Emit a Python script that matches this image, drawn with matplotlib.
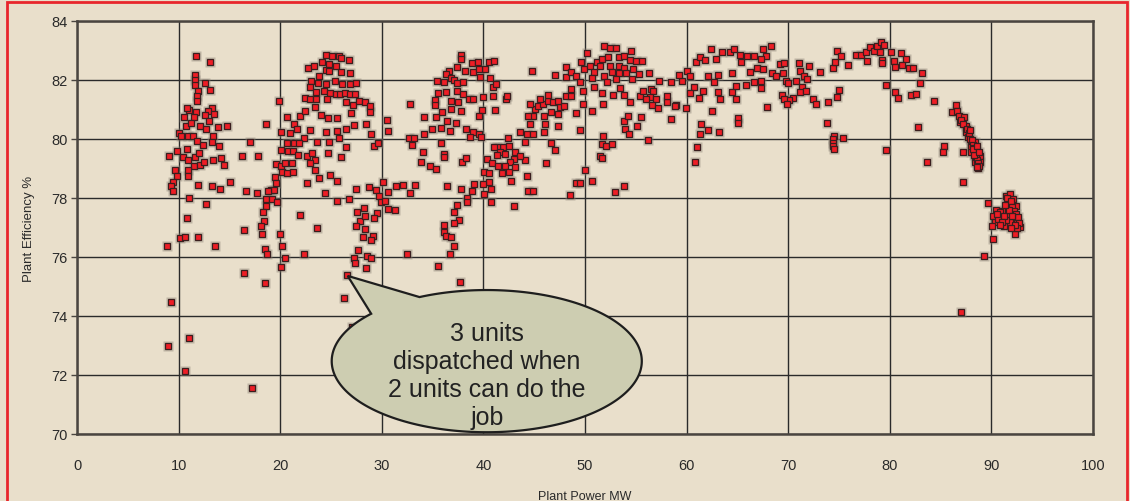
import numpy as np
import matplotlib
matplotlib.use('Agg')
import matplotlib.pyplot as plt
from matplotlib.patches import Polygon, Rectangle

# plant power (MW) / plant efficiency (%), grouped by region
power_1 = [11.74, 13.08, 11.64, 11.57, 11.64, 12.62, 13.08, 11.90, 11.80, 11.84,
           11.05, 10.82, 13.28, 12.85, 11.70, 10.49, 11.51, 12.62, 13.48, 12.98,
           10.69, 11.18, 12.07, 12.72, 13.84, 14.75, 10.03, 10.26, 10.92, 11.41,
           11.80, 12.39, 13.38, 13.31, 13.97, 16.98, 9.02, 9.84, 10.82, 10.39,
           10.92, 11.61, 12.00, 11.51, 12.07, 12.49, 13.38, 14.20, 14.43, 16.20,
           9.61, 9.84, 10.92, 10.95, 9.48, 9.25, 9.48, 11.93, 13.31, 14.10,
           15.08, 16.66, 11.05, 12.72, 10.82, 16.43, 10.16, 10.59, 11.93, 8.82,
           13.61, 16.43, 9.25, 11.05, 8.93, 10.59, 17.25]
eff_1 = [82.80, 82.61, 82.18, 82.00, 81.84, 81.89, 81.67, 81.62, 81.45, 81.30,
         80.99, 81.04, 81.06, 80.96, 80.90, 80.76, 80.75, 80.80, 80.85, 80.62,
         80.45, 80.53, 80.45, 80.34, 80.41, 80.45, 80.20, 80.11, 80.11, 80.11,
         79.92, 79.81, 80.09, 79.91, 79.77, 79.91, 79.44, 79.59, 79.67, 79.38,
         79.29, 79.39, 79.51, 79.10, 79.13, 79.23, 79.29, 79.34, 79.13, 79.44,
         78.94, 78.76, 78.96, 78.73, 78.55, 78.40, 78.23, 78.45, 78.40, 78.31,
         78.55, 78.25, 78.01, 77.81, 77.32, 76.93, 76.64, 76.69, 76.69, 76.38,
         76.38, 75.45, 74.48, 73.25, 72.97, 72.14, 71.55]

power_2 = [24.48, 25.13, 25.81, 25.94, 26.79, 22.69, 23.34, 24.12, 24.81, 25.49,
           25.94, 26.85, 24.48, 24.84, 23.77, 23.05, 23.70, 24.51, 25.39, 26.10,
           26.85, 27.47, 22.89, 23.51, 24.35, 24.94, 25.49, 25.88, 26.36, 26.85,
           27.34, 22.44, 22.89, 23.54, 24.58, 26.52, 27.18, 27.76, 28.31, 28.80,
           28.83, 19.84, 21.98, 22.40, 23.38, 24.03, 24.71, 25.62, 26.98, 27.27,
           20.71, 21.36, 18.57, 20.06, 21.00, 21.66, 22.31, 22.95, 23.60, 24.51,
           24.84, 25.62, 25.75, 26.46, 26.46, 28.47, 28.93, 29.19, 29.58, 30.52,
           30.62, 32.79, 32.69, 33.15, 33.02, 17.82, 20.68, 21.33, 21.85, 20.06,
           20.75, 21.27, 21.72, 22.63, 23.15, 23.47, 24.71, 25.94, 19.61, 20.03,
           20.49, 21.20, 22.96, 23.47, 20.13, 20.68, 21.27, 19.48, 23.81, 24.94,
           25.59, 22.66, 19.61, 19.06, 19.38, 18.83, 17.69, 18.60, 19.16, 19.71,
           18.60, 24.38, 25.58, 26.79, 27.44, 28.73, 29.45, 30.10, 30.58, 29.77,
           29.93, 30.36, 31.40, 32.05, 32.79, 33.28, 31.33, 30.58, 29.51, 29.19,
           28.21, 27.56, 27.82, 28.37, 27.50, 28.31, 28.15, 29.12, 28.93, 18.31,
           18.41, 18.15, 18.18, 21.92, 20.00, 23.67, 20.19, 18.47, 18.73, 20.52,
           22.37, 20.03, 27.69, 27.24, 27.37, 28.54, 28.93, 28.47, 32.44, 18.47,
           26.59, 26.27, 27.05]
eff_2 = [82.86, 82.82, 82.80, 82.73, 82.67, 82.42, 82.46, 82.60, 82.55, 82.49,
         82.26, 82.24, 82.35, 82.31, 82.15, 81.98, 81.90, 81.85, 81.98, 81.85,
         81.85, 81.89, 81.75, 81.58, 81.62, 81.56, 81.53, 81.53, 81.56, 81.53,
         81.53, 81.40, 81.36, 81.36, 81.34, 81.24, 81.15, 81.29, 81.24, 81.11,
         80.93, 81.29, 80.79, 80.94, 81.07, 80.80, 80.70, 80.70, 80.88, 80.46,
         80.75, 80.52, 80.50, 80.23, 80.20, 80.34, 80.05, 80.32, 79.91, 80.23,
         79.89, 80.27, 80.02, 80.34, 79.74, 80.51, 80.17, 79.77, 79.86, 80.66,
         80.27, 81.18, 80.02, 80.02, 79.81, 79.44, 79.86, 79.86, 79.86, 79.64,
         79.60, 79.58, 79.46, 79.41, 79.53, 79.28, 79.53, 79.38, 79.14, 79.10,
         79.19, 79.19, 79.19, 78.96, 78.87, 78.85, 78.89, 78.71, 78.69, 78.78,
         78.58, 78.51, 78.50, 78.28, 78.28, 78.24, 78.17, 77.97, 77.97, 77.88,
         77.74, 78.17, 77.91, 77.97, 78.31, 78.36, 78.28, 78.55, 78.19, 78.08,
         77.88, 77.91, 78.42, 78.44, 78.17, 78.44, 77.60, 77.63, 77.49, 77.31,
         77.67, 77.53, 77.22, 77.38, 77.04, 76.95, 76.68, 76.72, 76.59, 77.51,
         77.23, 77.06, 76.78, 77.42, 76.78, 77.00, 76.38, 76.27, 76.09, 75.95,
         76.10, 75.66, 76.25, 75.95, 75.80, 76.05, 75.95, 75.62, 76.10, 75.12,
         75.40, 74.62, 73.63]

power_3 = [37.84, 37.78, 37.39, 38.14, 38.86, 39.44, 40.20, 40.59, 41.05, 36.60,
           36.34, 36.80, 35.42, 36.14, 37.06, 37.45, 38.04, 39.02, 39.61, 39.67,
           40.65, 40.92, 41.24, 35.49, 36.34, 37.39, 38.04, 38.63, 38.95, 39.97,
           40.95, 42.22, 42.35, 35.23, 36.80, 37.52, 39.84, 41.18, 35.23, 35.88,
           36.80, 37.81, 35.29, 36.40, 37.32, 39.61, 34.12, 34.93, 35.82, 36.73,
           38.30, 38.95, 39.54, 39.77, 38.73, 34.12, 35.82, 34.05, 36.14, 36.14,
           33.86, 34.77, 35.36, 37.91, 38.33, 36.40, 37.78, 38.92, 39.08, 38.43,
           38.37, 37.45, 37.06, 37.55, 37.06, 36.08, 36.08, 36.34, 36.80, 37.06,
           36.73, 35.49, 37.71]
eff_3 = [82.85, 82.71, 82.43, 82.32, 82.56, 82.62, 82.37, 82.62, 82.66, 82.32,
         82.20, 82.06, 81.98, 81.94, 82.00, 81.90, 81.94, 82.26, 82.37, 82.09,
         82.06, 81.75, 81.85, 81.56, 81.60, 81.64, 81.54, 81.36, 81.36, 81.44,
         81.45, 81.36, 81.45, 81.32, 81.30, 81.27, 80.99, 80.99, 81.15, 80.90,
         81.02, 80.96, 80.73, 80.62, 80.54, 80.77, 80.75, 80.34, 80.36, 80.28,
         80.34, 80.23, 80.17, 80.06, 80.06, 80.17, 79.86, 79.57, 79.50, 79.38,
         79.23, 79.10, 78.98, 79.23, 79.34, 78.42, 78.31, 78.25, 78.47, 77.99,
         77.85, 77.76, 77.51, 77.24, 77.15, 77.10, 76.84, 76.70, 76.68, 76.38,
         76.10, 75.71, 75.16]

power_4 = [42.42, 41.90, 41.37, 42.55, 41.05, 41.63, 42.16, 43.10, 43.59, 44.12,
           44.12, 43.59, 43.00, 42.61, 41.31, 40.33, 40.85, 41.44, 42.12, 42.48,
           41.80, 43.14, 40.07, 40.59, 42.74, 40.52, 39.97, 40.72, 40.07, 40.72,
           43.01, 44.31, 44.35, 44.90, 46.21, 46.70, 47.03, 44.31, 44.90, 44.58,
           44.84, 44.41, 45.07, 45.39, 45.88, 46.34, 45.95, 46.08, 45.95, 46.70,
           47.39, 47.39, 47.52, 46.86, 47.36, 46.34, 45.56, 44.58, 47.91, 48.17,
           48.66, 49.08, 49.54, 48.17, 48.17, 48.66, 48.66, 49.15, 49.54, 49.80,
           49.80, 49.61, 49.90, 50.20, 50.00, 49.15, 49.54, 48.56, 44.74, 47.06]
eff_4 = [80.05, 79.73, 79.73, 79.77, 79.73, 79.55, 79.49, 79.55, 80.25, 79.91,
         79.28, 79.44, 79.32, 79.23, 79.46, 79.32, 79.19, 79.10, 79.10, 78.87,
         78.85, 79.04, 78.89, 78.85, 78.59, 78.53, 78.46, 78.31, 78.14, 77.88,
         77.72, 78.76, 78.25, 78.25, 79.19, 79.86, 79.62, 80.17, 80.17, 80.51,
         80.77, 80.79, 81.02, 81.11, 81.19, 81.30, 80.79, 80.51, 80.25, 80.90,
         80.85, 80.43, 81.07, 81.24, 81.30, 81.49, 81.36, 81.19, 81.11, 81.45,
         81.47, 80.88, 80.32, 82.09, 82.43, 82.26, 81.69, 82.12, 81.92, 81.64,
         81.19, 82.60, 82.37, 82.90, 78.96, 78.51, 78.51, 78.11, 82.32, 82.17]

power_5 = [51.90, 52.43, 53.08, 54.52, 51.18, 51.67, 52.23, 53.31, 53.87, 54.39,
           55.05, 55.61, 50.52, 51.44, 52.49, 53.34, 53.87, 54.72, 50.85, 51.84,
           52.62, 53.34, 54.07, 54.62, 55.28, 56.26, 57.25, 58.49, 50.65, 52.16,
           53.02, 53.48, 50.85, 51.67, 52.75, 53.87, 55.38, 55.70, 56.52, 56.69,
           56.43, 57.02, 51.77, 54.39, 55.97, 56.62, 57.15, 58.07, 58.92, 59.93,
           58.49, 50.72, 53.80, 54.20, 55.54, 55.11, 53.93, 54.30, 56.16, 51.77,
           51.67, 52.10, 52.62, 51.48, 51.67, 50.72, 52.98, 53.87]
eff_5 = [83.16, 83.10, 83.10, 82.99, 82.62, 82.71, 82.77, 82.77, 82.83, 82.69,
         82.66, 82.66, 82.49, 82.49, 82.49, 82.49, 82.40, 82.37, 82.26, 82.12,
         82.26, 82.24, 82.24, 82.03, 82.20, 82.24, 81.98, 81.94, 82.06, 81.92,
         82.03, 81.72, 81.75, 81.56, 81.49, 81.49, 81.47, 81.64, 81.69, 81.62,
         81.41, 81.36, 81.19, 81.24, 81.36, 81.15, 81.04, 81.27, 81.15, 81.04,
         80.68, 80.95, 80.62, 80.79, 80.76, 80.45, 80.34, 80.17, 79.98, 80.11,
         79.82, 79.77, 79.82, 79.44, 79.34, 78.59, 78.21, 78.42]

power_6 = [60.03, 60.36, 60.95, 61.34, 61.84, 62.39, 62.92, 63.48, 64.30, 64.69,
           65.21, 65.93, 66.59, 62.07, 62.66, 63.08, 60.69, 61.18, 61.61, 62.49,
           63.08, 63.31, 64.46, 64.43, 64.85, 64.85, 65.34, 66.20, 65.87, 66.59,
           66.92, 65.02, 65.02, 61.38, 61.28, 62.07, 63.18, 61.02, 60.82, 59.54,
           59.21, 58.89, 58.07, 60.36]
eff_6 = [82.32, 82.15, 82.60, 82.77, 82.69, 83.05, 82.71, 82.96, 82.96, 83.05,
         82.85, 82.83, 82.83, 82.12, 81.92, 82.17, 81.75, 81.39, 81.64, 80.95,
         81.60, 81.36, 82.24, 81.58, 81.81, 81.36, 82.60, 82.28, 81.83, 81.94,
         82.40, 80.70, 80.54, 80.51, 80.17, 80.32, 80.23, 79.72, 79.23, 81.98,
         82.17, 81.13, 81.45, 81.56]

power_7 = [67.56, 68.28, 67.79, 67.31, 67.50, 67.31, 67.31, 68.44, 68.83, 69.19,
           69.58, 69.51, 69.74, 69.97, 71.04, 71.14, 70.81, 71.59, 71.85, 71.36,
           71.20, 71.79, 72.05, 73.15, 70.49, 70.10, 69.42, 69.61, 69.84, 67.92,
           72.40, 72.73, 73.96, 74.38, 74.64, 74.84, 75.16, 74.97, 74.84, 73.83,
           75.91, 76.72, 77.21, 77.69, 78.08, 78.41, 78.73, 79.16, 79.38, 79.06,
           77.79, 79.19, 79.25, 80.16, 80.45, 80.49, 81.14, 81.59, 81.20, 81.85,
           82.31, 83.15, 83.02, 79.58, 80.49, 80.81, 82.11, 82.56, 82.82, 74.51,
           74.38, 74.38, 74.38, 74.51, 75.36, 79.58, 83.70]
eff_7 = [83.05, 83.16, 82.82, 82.71, 82.37, 81.98, 81.73, 82.23, 82.12, 82.54,
         82.58, 82.24, 81.98, 81.89, 82.58, 82.32, 81.98, 82.12, 82.03, 81.77,
         81.60, 81.64, 82.46, 82.28, 81.38, 81.31, 81.49, 81.36, 81.19, 81.10,
         81.36, 81.19, 81.24, 82.41, 82.60, 82.99, 82.82, 81.67, 81.44, 80.55,
         82.51, 82.85, 82.85, 82.96, 83.12, 82.98, 83.16, 83.30, 83.20, 82.96,
         82.66, 82.69, 82.58, 82.96, 82.66, 82.45, 82.92, 82.71, 82.52, 82.41,
         82.39, 82.23, 81.89, 81.84, 81.59, 81.39, 81.49, 81.54, 80.41, 80.11,
         79.99, 79.86, 79.75, 79.66, 80.05, 79.63, 79.23]

power_8 = [84.33, 86.56, 86.10, 86.62, 86.82, 87.34, 86.89, 87.48, 87.48, 87.70,
           88.03, 88.03, 88.36, 88.52, 88.03, 88.85, 88.36, 88.69, 88.92, 85.31,
           85.25, 87.25, 87.21, 89.25, 87.02, 87.00, 87.20, 87.60, 87.80, 87.90,
           88.10, 88.20, 88.30, 88.40, 88.50, 88.60, 88.70, 88.80, 88.55, 88.25,
           88.15, 88.60, 88.75, 87.90]
eff_8 = [81.29, 81.15, 80.90, 80.96, 80.79, 80.73, 80.56, 80.45, 80.25, 80.06,
         79.86, 79.72, 79.89, 79.60, 79.55, 79.44, 79.23, 79.01, 79.21, 79.75,
         79.57, 79.57, 78.55, 76.03, 74.15, 80.65, 80.50, 80.35, 80.20, 80.00,
         79.95, 79.80, 79.70, 79.50, 79.40, 79.30, 79.20, 79.10, 79.05, 79.45,
         79.65, 79.75, 79.55, 80.30]

power_9 = [89.70, 90.49, 90.16, 90.33, 90.10, 91.08, 91.41, 91.80, 92.13, 91.64,
           92.39, 91.61, 92.13, 92.52, 92.79, 91.97, 91.21, 90.69, 90.89, 92.30,
           90.16, 91.50, 91.90, 92.00, 92.20, 92.40, 92.60, 92.70, 92.50, 92.20,
           91.80, 91.40, 91.20, 91.00, 90.80, 91.70, 92.00, 91.30, 90.60, 92.35,
           91.90]
eff_9 = [77.82, 77.60, 77.40, 77.17, 77.04, 77.57, 78.08, 78.14, 77.97, 77.86,
         77.74, 77.40, 77.29, 77.23, 77.01, 77.06, 77.06, 77.29, 77.51, 76.78,
         76.62, 78.00, 77.90, 77.70, 77.55, 77.45, 77.35, 77.15, 77.00, 77.10,
         77.20, 77.25, 77.40, 77.20, 77.10, 77.60, 77.40, 77.75, 77.45, 77.10,
         77.00]

x_ticks = [0, 10, 20, 30, 40, 50, 60, 70, 80, 90, 100]
y_ticks = [70, 72, 74, 76, 78, 80, 82, 84]
callout_text = "3 units\ndispatched when\n2 units can do the\njob"

plt.rcParams['font.family'] = ['Liberation Sans', 'DejaVu Sans']

bg = '#E9DFCB'
fig = plt.figure(figsize=(11.3, 5.02), dpi=100, facecolor=bg)
ax = fig.add_axes([77 / 1130, 1 - 435 / 502, 1016 / 1130, 413 / 502])
ax.set_facecolor(bg)

power = np.concatenate([power_1, power_2, power_3, power_4, power_5,
                        power_6, power_7, power_8, power_9])
eff = np.concatenate([eff_1, eff_2, eff_3, eff_4, eff_5,
                      eff_6, eff_7, eff_8, eff_9])

# soft grey halo, then the red squares
ax.plot(power, eff, 's', ms=6.8, mfc='#8a8275', mec='none', alpha=0.45, zorder=3)
ax.plot(power, eff, 's', ms=5.0, mfc='#EE1D25', mec='#3a1e1e', mew=0.9, zorder=4)

ax.set_xlim(0, 100)
ax.set_ylim(70, 84)
ax.set_xticks(x_ticks)
ax.set_yticks(y_ticks)
ax.grid(True, color='#2a2a2a', lw=1.0, zorder=1)
ax.set_axisbelow(True)
for s in ax.spines.values():
    s.set_color('#4a4540')
    s.set_linewidth(1.8)
    s.set_zorder(5)
ax.tick_params(axis='y', direction='out', length=4, width=1, color='#4a4540',
               pad=3, labelsize=10.5, labelcolor='#2a2a2a')
ax.tick_params(axis='x', length=0, pad=17, labelsize=10.5, labelcolor='#2a2a2a')

ax.set_xlabel('Plant Power MW', fontsize=9, color='#2a2a2a')
ax.xaxis.set_label_coords(0.5, -0.135)
ax.set_ylabel('Plant Efficiency %', fontsize=9.5, color='#2a2a2a')
ax.yaxis.set_label_coords(-0.041, 0.5)

# speech bubble callout
cx, cy, a, b = 40.33, 72.47, 15.26, 2.41
t = np.radians(np.linspace(138.2, 360 + 115.7, 300))
bx = list(cx + a * np.cos(t)) + [26.64]
by = list(cy + b * np.sin(t)) + [75.36]
bubble = Polygon(np.column_stack([bx, by]), closed=True, facecolor='#CDCDB1',
                 edgecolor='#1e1e1e', lw=1.6, zorder=6, clip_on=False)
ax.add_patch(bubble)
ax.text(cx, 72.0, callout_text, ha='center', va='center', fontsize=18,
        color='#222222', linespacing=1.22, zorder=7)

# red frame round the figure
fig.add_artist(Rectangle((7 / 1130, -0.05), 1120 / 1130, 1.05 - 3 / 502,
                         transform=fig.transFigure, fill=False,
                         edgecolor='#E8262C', lw=2.0))

fig.savefig('out.png', dpi=100, facecolor=bg)
